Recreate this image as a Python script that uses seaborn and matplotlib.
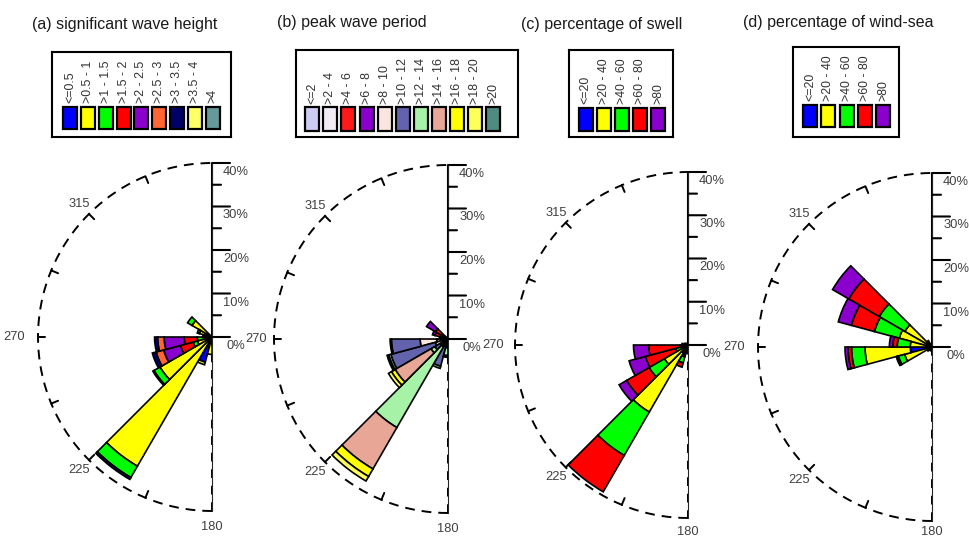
import numpy as np
import matplotlib
matplotlib.use('Agg')
import matplotlib.pyplot as plt
import seaborn as sns

sns.set_style('white')
plt.rcParams['font.family'] = ['Liberation Sans', 'DejaVu Sans']

W, H = 969, 540

# ---------------- data ----------------
directions = [187.5, 202.5, 217.5, 232.5, 247.5, 262.5, 277.5, 292.5, 307.5, 322.5]
sector_width = 15.0
r_ticks = [0, 10, 20, 30, 40]
angle_labels = ['315', '270', '225', '180']
angle_label_dirs = [315, 270, 225, 180]

titles = ['(a) significant wave height', '(b) peak wave period',
          '(c) percentage of swell', '(d) percentage of wind-sea']

hs_labels = ['<=0.5', '>0.5 - 1', '>1 - 1.5', '>1.5 - 2', '>2 - 2.5',
             '>2.5 - 3', '>3 - 3.5', '>3.5 - 4', '>4']
hs_colors = ['#0000ff', '#ffff00', '#00ff00', '#ff0000', '#8a00cc',
             '#ff6633', '#000066', '#ffff66', '#669999']
hs_freq = [
    [0.5, 3.5, 0, 0, 0, 0, 0, 0, 0],
    [6.0, 0.6, 0, 0, 0, 0, 0, 0, 0],
    [0.5, 33.8, 3.0, 0, 0, 0, 0.5, 0, 0],
    [0.5, 13.3, 1.6, 0, 0, 0, 0.3, 0, 0],
    [0.3, 3.2, 1.0, 3.0, 4.0, 1.8, 0.9, 0, 0],
    [0.3, 1.7, 1.4, 3.0, 4.6, 1.5, 0.7, 0, 0],
    [0.3, 1.5, 0.3, 0, 0, 0, 0, 0, 0],
    [0.3, 2.7, 0.5, 0, 0, 0, 0, 0, 0],
    [0.3, 5.0, 1.2, 0, 0, 0, 0, 0, 0],
    [0, 0, 0, 0, 0, 0, 0, 0, 0],
]

tp_labels = ['<=2', '>2 - 4', '>4 - 6', '>6 - 8', '>8 - 10', '>10 - 12',
             '>12 - 14', '>14 - 16', '>16 - 18', '>18 - 20', '>20']
tp_colors = ['#ccccf5', '#f1ebf5', '#ff1a1a', '#8a00cc', '#fbe6df', '#6262ad',
             '#a6f2a6', '#e8a796', '#ffff00', '#ffff5c', '#4f8c80']
tp_freq = [
    [0.5, 0.5, 0, 0, 0.5, 0.5, 1.8, 0, 0, 0, 0.4],
    [0.5, 0.5, 0, 0, 0.5, 5.0, 0.5, 0, 0, 0, 0],
    [0.5, 0.5, 0, 0, 0.5, 0.5, 21.5, 11.0, 2.0, 1.2, 0],
    [0.5, 0.5, 0, 0, 1.0, 1.5, 1.0, 9.5, 1.0, 0.8, 0],
    [0.5, 0.7, 0, 0, 1.8, 10.6, 0.5, 0, 0, 0, 0.4],
    [0.6, 2.0, 0, 0, 3.8, 6.6, 0, 0, 0, 0, 0.3],
    [0.5, 0.8, 0.3, 0, 0.4, 0, 0, 0, 0, 0, 0],
    [0.3, 0.5, 2.3, 0.6, 0, 0, 0, 0, 0, 0, 0],
    [0.3, 0.5, 2.5, 2.4, 0, 0, 0, 0, 0, 0, 0],
    [0, 0, 0, 0, 0, 0, 0, 0, 0, 0, 0],
]

pct_labels = ['<=20', '>20 - 40', '>40 - 60', '>60 - 80', '>80']
pct_colors = ['#0000ff', '#ffff00', '#00ff00', '#ff0000', '#8a00cc']
swell_freq = [
    [0.8, 0.3, 0.5, 0.4, 0],
    [2.5, 0.3, 1.5, 1.0, 0],
    [2.0, 15.9, 11.6, 9.7, 0],
    [1.0, 5.3, 4.1, 6.0, 2.0],
    [0.5, 1.0, 1.5, 7.2, 3.9],
    [0.5, 0.5, 0.8, 7.3, 3.5],
    [0.5, 0.3, 0.3, 0.3, 0],
    [0.4, 0.2, 0.2, 0, 0],
    [0.3, 0.2, 0, 0, 0],
    [0.2, 0, 0, 0, 0],
]
windsea_freq = [
    [0.4, 0.3, 0, 0, 0],
    [0.4, 0.3, 0.2, 0, 0],
    [0.4, 0.3, 0.2, 0, 0],
    [0.5, 0.5, 0.3, 0, 0],
    [1.0, 5.5, 1.5, 0.2, 0.3],
    [5.0, 10.4, 3.1, 0.8, 0.7],
    [1.0, 4.0, 3.0, 1.0, 0.8],
    [1.0, 6.8, 5.9, 5.5, 3.1],
    [1.0, 6.2, 6.8, 8.1, 4.3],
    [0.8, 0.6, 0.3, 0, 0],
]

# ---------------- layout (pixels) ----------------
panels = [
    dict(title_xy=(32, 24), centre=(212, 337), R=174, r270=45.6, r180=43.7,
         legend_box=(52, 52, 231, 137), leg_x0=70.3, leg_dx=17.8, leg_y=(107, 129), leg_text_y=103.5,
         labels=hs_labels, colors=hs_colors, freq=hs_freq),
    dict(title_xy=(277, 23), centre=(448, 339), R=174, r270=44.0, r180=43.7,
         legend_box=(296, 50, 518, 137), leg_x0=312.2, leg_dx=18.1, leg_y=(107, 131), leg_text_y=104,
         labels=tp_labels, colors=tp_colors, freq=tp_freq),
    dict(title_xy=(521, 24), centre=(688, 345), R=173, r270=45.0, r180=43.2,
         legend_box=(569, 50, 673, 137), leg_x0=585.5, leg_dx=18.2, leg_y=(108, 131), leg_text_y=104,
         labels=pct_labels, colors=pct_colors, freq=swell_freq),
    dict(title_xy=(743, 23), centre=(932, 347), R=174, r270=45.6, r180=42.6,
         legend_box=(793, 47, 899, 137), leg_x0=810, leg_dx=18.3, leg_y=(105, 127), leg_text_y=101,
         labels=pct_labels, colors=pct_colors, freq=windsea_freq),
]

fig = plt.figure(figsize=(W / 100, H / 100), dpi=100)
px2pt = 72 / 100
r_max = 40
grey = '#404040'


def draw_rose(p):
    cx, cy = p['centre']
    R = p['R']
    ax = fig.add_axes([(cx - 1.5 * R) / W, (H - cy - R) / H, 2 * R / W, 2 * R / H],
                      projection='polar')
    ax.set_theta_zero_location('N')
    ax.set_theta_direction(-1)
    ax.set_thetamin(180)
    ax.set_thetamax(360)
    ax.set_ylim(0, r_max)
    ax.grid(False)
    ax.set_xticks([])
    ax.set_yticks([])
    for s in ax.spines.values():
        s.set_visible(False)
    ax.patch.set_visible(False)

    theta = np.deg2rad(directions)
    f = np.array(p['freq'], dtype=float)
    bottom = np.zeros(len(directions))
    for j, c in enumerate(p['colors']):
        m = f[:, j] > 0
        if m.any():
            ax.bar(theta[m], f[m, j], width=np.deg2rad(sector_width), bottom=bottom[m],
                   color=c, edgecolor='black', linewidth=1.2, align='center')
        bottom += f[:, j]

    # frame: dashed outer arc, dashed south line, solid north axis
    th = np.linspace(np.pi, 2 * np.pi, 400)
    ax.plot(th, np.full_like(th, r_max), color='black', lw=1.4, ls=(0, (5, 3.6)), clip_on=False)
    ax.plot([np.pi, np.pi], [0, r_max], color='black', lw=1.4, ls=(0, (4.5, 4)), clip_on=False)
    ax.plot([2 * np.pi, 2 * np.pi], [0, r_max], color='black', lw=1.5, clip_on=False,
            solid_capstyle='butt')
    for b in [202.5, 225, 247.5, 270, 292.5, 315, 337.5]:
        ax.plot([np.deg2rad(b)] * 2, [r_max - 1.7, r_max], color='black', lw=1.4, clip_on=False)

    # radial ticks and labels
    for rv in range(0, r_max + 1, 5):
        L = 18 if rv % 10 == 0 else 9
        ax.annotate('', xy=(2 * np.pi, rv), xytext=(L * px2pt, 0), textcoords='offset points',
                    arrowprops=dict(arrowstyle='-', color='black', lw=1.5, shrinkA=0, shrinkB=0),
                    annotation_clip=False)
    for rv in r_ticks:
        ax.annotate(f'{rv}%', xy=(2 * np.pi, rv), xytext=(24 * px2pt, -9 * px2pt),
                    textcoords='offset points', ha='center', va='center',
                    fontsize=9.3, color=grey, annotation_clip=False)

    # direction labels
    lab_r = {315: 43.2, 270: p['r270'], 225: 43.2, 180: p['r180']}
    for lab, d in zip(angle_labels, angle_label_dirs):
        ax.text(np.deg2rad(d), lab_r[d], lab, ha='center', va='center', fontsize=9.3,
                color=grey, clip_on=False)


def draw_legend(p):
    x0, y0, x1, y1 = p['legend_box']
    lax = fig.add_axes([x0 / W, (H - y1) / H, (x1 - x0) / W, (y1 - y0) / H])
    lax.set_xlim(x0, x1)
    lax.set_ylim(y1, y0)
    n = len(p['labels'])
    xs = p['leg_x0'] + p['leg_dx'] * np.arange(n)
    ytop, ybot = p['leg_y']
    lax.bar(xs, ybot - ytop, bottom=ytop, width=14, color=p['colors'],
            edgecolor='black', linewidth=1.6)
    for x, lab in zip(xs, p['labels']):
        lax.text(x, p['leg_text_y'], lab, rotation=90, ha='center', va='bottom',
                 fontsize=8.9, color='#333333')
    lax.set_xticks([])
    lax.set_yticks([])
    for s in lax.spines.values():
        s.set_visible(True)
        s.set_color('black')
        s.set_linewidth(1.5)
    lax.set_facecolor('white')


for p, t in zip(panels, titles):
    draw_rose(p)
    draw_legend(p)
    tx, ty = p['title_xy']
    fig.text(tx / W, 1 - ty / H, t, fontsize=11.5, ha='left', va='center', color='#1a1a1a')

fig.savefig('out.png', dpi=100, facecolor='white')
